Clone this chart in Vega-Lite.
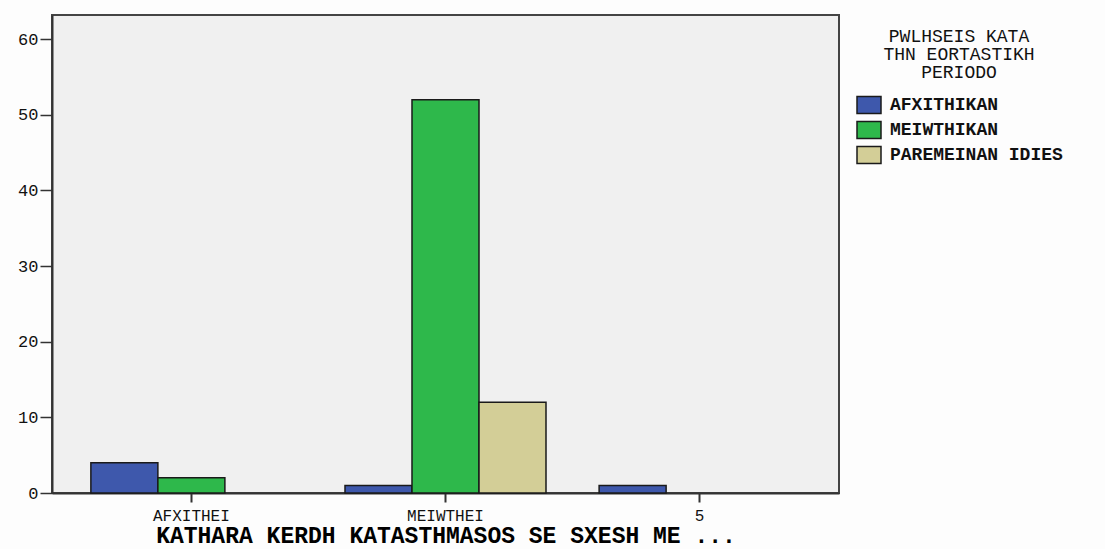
{
  "$schema": "https://vega.github.io/schema/vega-lite/v6.json",
  "autosize": "none",
  "width": 787,
  "height": 478,
  "padding": {"left": 52, "top": 15, "right": 266, "bottom": 56},
  "background": "#fdfdfd",
  "data": {
    "values": [
      {"category": "AFXITHEI", "group": "AFXITHIKAN", "count": 4},
      {"category": "AFXITHEI", "group": "MEIWTHIKAN", "count": 2},
      {"category": "MEIWTHEI", "group": "AFXITHIKAN", "count": 1},
      {"category": "MEIWTHEI", "group": "MEIWTHIKAN", "count": 52},
      {"category": "MEIWTHEI", "group": "PAREMEINAN IDIES", "count": 12},
      {"category": "5", "group": "AFXITHIKAN", "count": 1}
    ]
  },
  "mark": {"type": "bar", "stroke": "#1a1a1a", "strokeWidth": 1.5},
  "encoding": {
    "x": {
      "field": "category",
      "type": "nominal",
      "sort": ["AFXITHEI", "MEIWTHEI", "5"],
      "scale": {"paddingInner": 0.209, "paddingOuter": 0.153},
      "axis": {
        "title": "KATHARA KERDH KATASTHMASOS SE SXESH ME ...",
        "titleFont": "Liberation Mono",
        "titleFontSize": 23,
        "titleFontWeight": "bold",
        "titleColor": "#000000",
        "titleBaseline": "alphabetic",
        "titleY": 49,
        "titleLimit": 0,
        "labelAngle": 0,
        "labelFont": "Liberation Mono",
        "labelFontSize": 16,
        "labelColor": "#111111",
        "labelBaseline": "top",
        "labelPadding": 5,
        "tickSize": 9,
        "tickColor": "#333333",
        "tickWidth": 2,
        "domainColor": "#333333",
        "domainWidth": 2
      }
    },
    "xOffset": {
      "field": "group",
      "type": "nominal",
      "scale": {"domain": ["AFXITHIKAN", "MEIWTHIKAN", "PAREMEINAN IDIES"], "paddingInner": 0, "paddingOuter": 0}
    },
    "y": {
      "field": "count",
      "type": "quantitative",
      "scale": {"domain": [0, 63.2], "nice": false},
      "axis": {
        "title": null,
        "values": [0, 10, 20, 30, 40, 50, 60],
        "grid": false,
        "labelFont": "Liberation Mono",
        "labelFontSize": 17,
        "labelColor": "#111111",
        "labelPadding": 2,
        "tickSize": 12,
        "tickColor": "#333333",
        "tickWidth": 1.5,
        "domainColor": "#333333",
        "domainWidth": 2
      }
    },
    "color": {
      "field": "group",
      "type": "nominal",
      "scale": {
        "domain": ["AFXITHIKAN", "MEIWTHIKAN", "PAREMEINAN IDIES"],
        "range": ["#3e58ac", "#2eb84b", "#d3ce97"]
      },
      "legend": {
        "title": ["PWLHSEIS KATA", "THN EORTASTIKH", "PERIODO"],
        "orient": "none",
        "legendX": 804,
        "legendY": 13,
        "padding": 0,
        "titleFont": "Liberation Mono",
        "titleFontSize": 18,
        "titleFontWeight": "normal",
        "titleColor": "#111111",
        "titleAlign": "center",
        "titleAnchor": "middle",
        "titleLineHeight": 18,
        "titlePadding": 10,
        "titleLimit": 0,
        "labelFont": "Liberation Mono",
        "labelFontSize": 18,
        "labelFontWeight": "bold",
        "labelColor": "#111111",
        "labelOffset": 8,
        "labelLimit": 0,
        "symbolType": "M-1,-0.7L1,-0.7L1,0.7L-1,0.7Z",
        "symbolSize": 576,
        "symbolStrokeColor": "#1a1a1a",
        "symbolStrokeWidth": 1.5,
        "symbolOpacity": 1,
        "rowPadding": -1
      }
    }
  },
  "config": {
    "view": {"fill": "#f0f0f0", "stroke": "#444444", "strokeWidth": 2}
  }
}
